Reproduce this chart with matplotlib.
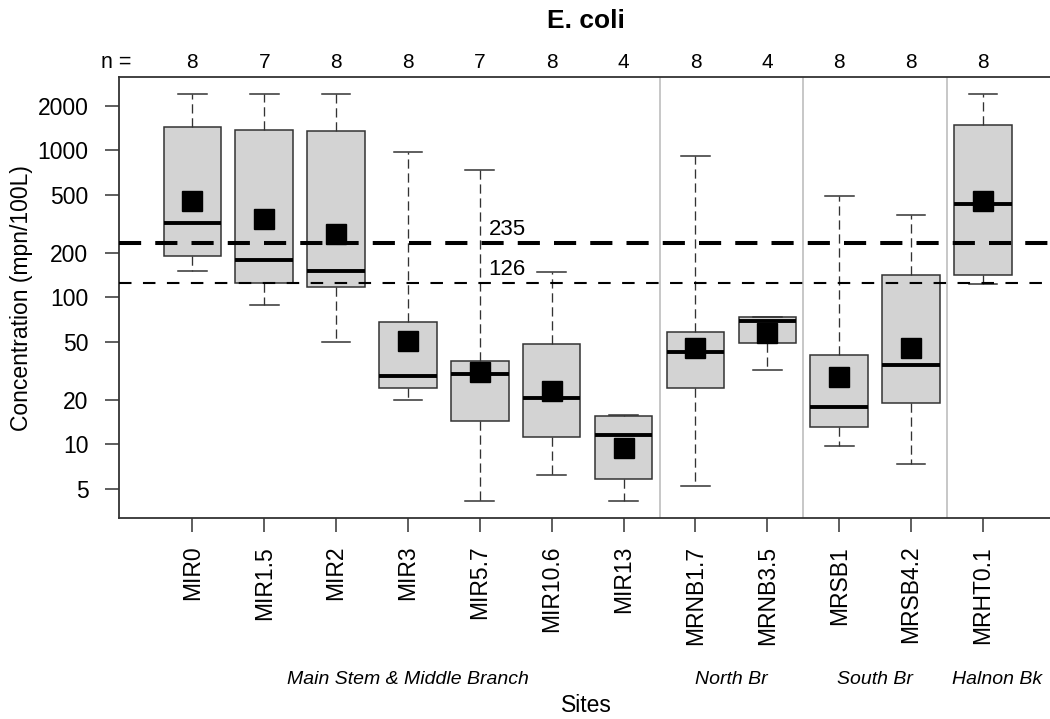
import numpy as np
import matplotlib
matplotlib.use("Agg")
import matplotlib.pyplot as plt
from matplotlib.ticker import NullLocator
from matplotlib.transforms import blended_transform_factory

plt.rcParams['font.family'] = ['Liberation Sans', 'DejaVu Sans']

# values (mpn/100L, log scale)
sites = ["MIR0", "MIR1.5", "MIR2", "MIR3", "MIR5.7", "MIR10.6", "MIR13",
         "MRNB1.7", "MRNB3.5", "MRSB1", "MRSB4.2", "MRHT0.1"]
n_obs = [8, 7, 8, 8, 7, 8, 4, 8, 4, 8, 8, 8]
whisk_lo = [152, 88, 50, 20.1, 4.1, 6.2, 4.1, 5.2, 32.2, 9.7, 7.4, 122.5]
q1 = [191, 126, 117, 24.3, 14.4, 11.2, 5.8, 24.3, 49.1, 13.2, 19.2, 141]
medians = [322, 178, 152, 29.1, 30.1, 20.6, 11.5, 42.7, 69.3, 17.9, 34.6, 429]
q3 = [1440, 1380, 1353, 68.2, 37.0, 48.1, 15.6, 57.8, 73.1, 40.5, 141, 1479]
whisk_hi = [2420, 2420, 2420, 969, 731, 148, 15.8, 919, 73.1, 491, 363, 2420]
means = [452, 341, 268, 50.2, 30.9, 23.2, 9.4, 45.2, 57.0, 28.6, 45.4, 452]

groups = ["Main Stem & Middle Branch", "North Br", "South Br", "Halnon Bk"]
group_centers = [4, 8.5, 10.5, 12.19]
group_breaks = [7.5, 9.5, 11.5]
standards = [235, 126]
yticks = [5, 10, 20, 50, 100, 200, 500, 1000, 2000]

W, H = 1050, 719
fig = plt.figure(figsize=(W / 100, H / 100), dpi=100)
ax = fig.add_axes([119 / W, 1 - 518 / H, (1053.4 - 119) / W, (518 - 77.3) / H])

stats = []
for s, lo, a, m, b, hi, mu in zip(sites, whisk_lo, q1, medians, q3, whisk_hi, means):
    stats.append(dict(label=s, whislo=lo, q1=a, med=m, q3=b, whishi=hi, mean=mu))

pos = np.arange(1, len(sites) + 1)
edge = '#333333'
ax.bxp(stats, positions=pos, widths=0.8, capwidths=0.4, patch_artist=True,
       showmeans=True, showfliers=False,
       boxprops=dict(facecolor='#d3d3d3', edgecolor=edge, linewidth=1.1),
       medianprops=dict(color='black', linewidth=2.8, solid_capstyle='butt'),
       whiskerprops=dict(color=edge, linewidth=0.95, linestyle=(0, (7, 3.6))),
       capprops=dict(color=edge, linewidth=1.1),
       meanprops=dict(marker='s', markerfacecolor='black', markeredgecolor='black',
                      markersize=15, zorder=6))

for b in group_breaks:
    ax.axvline(b, color='#bebebe', lw=1.2, zorder=1)

# standards
ax.axhline(standards[0], color='black', lw=2.9, ls=(0, (5.5, 3.5)), zorder=5)
ax.axhline(standards[1], color='black', lw=1.5, ls=(0, (6, 5.5)), zorder=5)
for s in standards:
    ax.annotate(str(s), xy=(5.12, s), xytext=(0, 9.6), textcoords='offset points',
                ha='left', va='center', fontsize=16)

ax.set_yscale('log')
ax.set_ylim(3.152, 3138)
ax.set_xlim(-0.02, 12.98)
ax.set_yticks(yticks)
ax.set_yticklabels([str(v) for v in yticks])
ax.yaxis.set_minor_locator(NullLocator())
ax.set_xticks(pos)
ax.set_xticklabels(sites, rotation=90)
ax.tick_params(axis='both', labelsize=16.5, length=10, width=1.1, color=edge)
ax.tick_params(axis='y', pad=12)
ax.tick_params(axis='x', pad=10)
for sp in ax.spines.values():
    sp.set_linewidth(1.3)
    sp.set_color(edge)

tr = blended_transform_factory(ax.transData, fig.transFigure)
for p, n in zip(pos, n_obs):
    ax.text(p, 1 - 62 / H, str(n), transform=tr, ha='center', va='center', fontsize=15)
fig.text(116 / W, 1 - 62 / H, "n =", ha='center', va='center', fontsize=15.5)

for g, c in zip(groups, group_centers):
    ax.text(c, 1 - 679 / H, g, transform=tr, ha='center', va='center',
            fontsize=14, style='italic')

fig.text(586 / W, 1 - 21 / H, "E. coli", ha='center', va='center',
         fontsize=19, weight='bold')
fig.text(586 / W, 1 - 706 / H, "Sites", ha='center', va='center', fontsize=16.5)
fig.text(22 / W, 1 - 297.7 / H, "Concentration (mpn/100L)", rotation=90,
         ha='center', va='center', fontsize=16.5)

fig.savefig("out.png", dpi=100)
